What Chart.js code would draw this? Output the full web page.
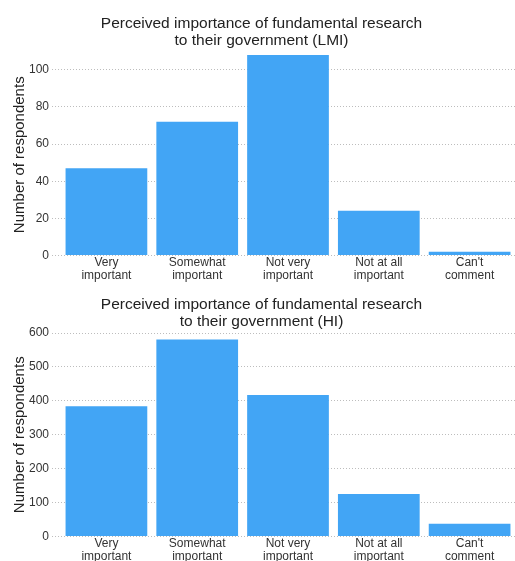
<!DOCTYPE html>
<html>
<head>
<meta charset="utf-8">
<script src="https://cdn.jsdelivr.net/npm/chart.js@4/dist/chart.umd.min.js"></script>
<style>
  html, body { margin: 0; padding: 0; background: #fff; overflow: hidden; }
  .box { position: absolute; left: 0; width: 515px; }
  #top { top: 0; height: 283px; }
  #bottom { top: 285px; height: 279px; }
</style>
</head>
<body>
<div class="box" id="top"><canvas id="lmi"></canvas></div>
<div class="box" id="bottom"><canvas id="hi"></canvas></div>
<script>
const categories = [
  ['Very', 'important'],
  ['Somewhat', 'important'],
  ['Not very', 'important'],
  ['Not at all', 'important'],
  ["Can't", 'comment']
]
const lmiCounts = [47, 72, 108, 24, 2]
const hiCounts = [384, 581, 417, 125, 37]
const lmiTicks = [0, 20, 40, 60, 80, 100]
const hiTicks = [0, 100, 200, 300, 400, 500, 600]

const FONT = '"Liberation Sans", Arial, sans-serif'
const BAR_COLOR = '#42a5f5'

const makeChart = (canvas, counts, title, ticks, max, pad) => {
  const ctx = canvas.getContext('2d')
  return new Chart(ctx, {
    type: 'bar',
    data: {
      labels: categories,
      datasets: [{
        data: counts,
        backgroundColor: BAR_COLOR,
        barPercentage: 0.9,
        categoryPercentage: 1
      }]
    },
    options: {
      responsive: true,
      maintainAspectRatio: false,
      animation: false,
      layout: { padding: { top: pad.top, right: 0, left: 8, bottom: 0 } },
      plugins: {
        legend: { display: false },
        tooltip: { enabled: false },
        title: {
          display: true,
          text: title,
          color: '#222',
          font: { family: FONT, size: 15.5, weight: 'normal', lineHeight: 1.1 },
          padding: { top: 4, bottom: pad.titleBottom }
        }
      },
      scales: {
        x: {
          grid: { display: false, drawTicks: false },
          border: { display: false },
          ticks: {
            color: '#333',
            font: { family: FONT, size: 12, lineHeight: 1.15 },
            maxRotation: 0,
            autoSkip: false,
            padding: 0
          }
        },
        y: {
          min: 0,
          max: max,
          // only the round ticks, even when max sits above the last one
          afterBuildTicks: axis => {
            axis.ticks = ticks.map(v => ({ value: v }))
          },
          border: { display: false, dash: [1, 2] },
          grid: {
            color: '#bdbdbd',
            lineWidth: 1,
            tickLength: 9,
            tickBorderDash: [1, 2]
          },
          ticks: {
            color: '#333',
            font: { family: FONT, size: 12 },
            padding: 3
          },
          title: {
            display: true,
            text: 'Number of respondents',
            color: '#222',
            font: { family: FONT, size: 15 },
            padding: { top: 3, bottom: -3 }
          }
        }
      }
    }
  })
}

const c1 = makeChart(document.getElementById('lmi'), lmiCounts,
  ['Perceived importance of fundamental research', 'to their government (LMI)'],
  lmiTicks, 108.5, { top: 11, titleBottom: 5 })
const c2 = makeChart(document.getElementById('hi'), hiCounts,
  ['Perceived importance of fundamental research', 'to their government (HI)'],
  hiTicks, 600, { top: 7, titleBottom: 3 })
</script>
</body>
</html>
